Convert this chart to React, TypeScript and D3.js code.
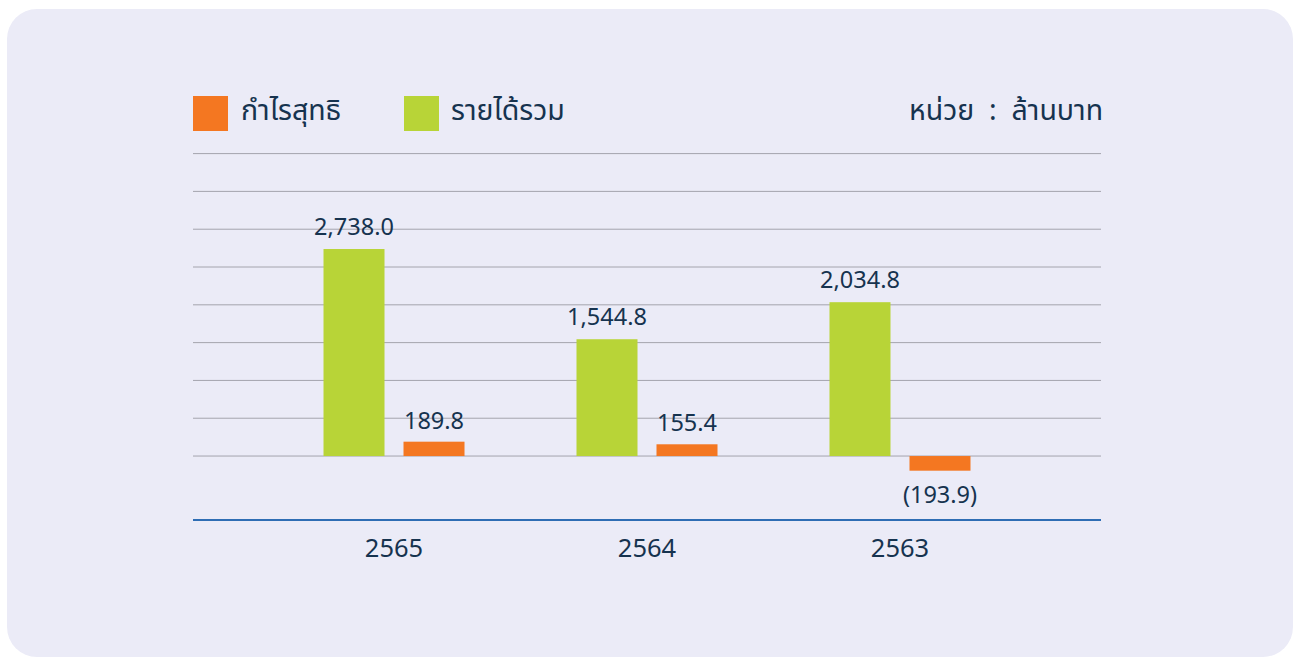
import React from "react";
import * as d3 from "d3";

const categories = ["2565", "2564", "2563"];
const revenue = [2738.0, 1544.8, 2034.8];
const profit = [189.8, 155.4, -193.9];
const seriesNames = ["กำไรสุทธิ", "รายได้รวม"];
const unitLabel = "หน่วย  :  ล้านบาท";
const gridTicks = [0, 500, 1000, 1500, 2000, 2500, 3000, 3500, 4000];

const W = 1293;
const H = 657;
const FONT = "'Noto Sans Thai', 'Noto Sans', 'Open Sans', sans-serif";
const TEXT = "#16334f";
const ORANGE = "#f47721";
const GREEN = "#b8d437";

export default function App() {
  const left = 193;
  const right = 1101;
  const y = d3.scaleLinear().domain([-846, 4000]).range([520, 153.6]);
  const x = d3.scalePoint<string>().domain(categories).range([left, right]).padding(0.7945);
  const barW = 61;
  const off = 40;
  const fmt = (v: number) => {
    const s = d3.format(",.1f")(Math.abs(v));
    return v < 0 ? `(${s})` : s;
  };
  return (
    <svg width={W} height={H} style={{ position: "absolute", left: 0, top: 0 }}>
      <rect x={0} y={0} width={W} height={H} fill="#ffffff" />
      <rect x={7} y={9} width={1286} height={648} rx={30} ry={30} fill="#ebebf7" />
      {gridTicks.map((t) => (
        <line key={t} x1={left} x2={right} y1={y(t)} y2={y(t)} stroke="#a4a4ad" strokeWidth={1} />
      ))}
      <line x1={left} x2={right} y1={y(-846)} y2={y(-846)} stroke="#2e6db4" strokeWidth={2} />
      {categories.map((c, i) => {
        const cx = x(c)!;
        const r = revenue[i];
        const p = profit[i];
        const gx = cx - off - barW / 2;
        const ox = cx + off - barW / 2;
        return (
          <g key={c}>
            <rect x={gx} y={y(r)} width={barW} height={y(0) - y(r)} fill={GREEN} />
            <rect x={ox} y={Math.min(y(p), y(0))} width={barW} height={Math.abs(y(0) - y(p))} fill={ORANGE} />
            <text x={gx + barW / 2} y={y(r) - 14} textAnchor="middle" fontFamily={FONT} fontSize={23.5} fill={TEXT}>
              {fmt(r)}
            </text>
            <text
              x={ox + barW / 2}
              y={p >= 0 ? y(p) - 13 : y(p) + 32}
              textAnchor="middle"
              fontFamily={FONT}
              fontSize={23.5}
              fill={TEXT}
            >
              {fmt(p)}
            </text>
            <text x={cx} y={557} textAnchor="middle" fontFamily={FONT} fontSize={25.5} fill={TEXT}>
              {c}
            </text>
          </g>
        );
      })}
      <rect x={193} y={96} width={35} height={35} fill={ORANGE} />
      <text x={241} y={120} fontFamily={FONT} fontSize={28.5} fill={TEXT}>
        {seriesNames[0]}
      </text>
      <rect x={404} y={96} width={35} height={35} fill={GREEN} />
      <text x={451} y={120} fontFamily={FONT} fontSize={28.5} fill={TEXT}>
        {seriesNames[1]}
      </text>
      <text x={1103} y={120} textAnchor="end" fontFamily={FONT} fontSize={28.5} fill={TEXT} style={{ whiteSpace: "pre" }}>
        {unitLabel}
      </text>
    </svg>
  );
}
